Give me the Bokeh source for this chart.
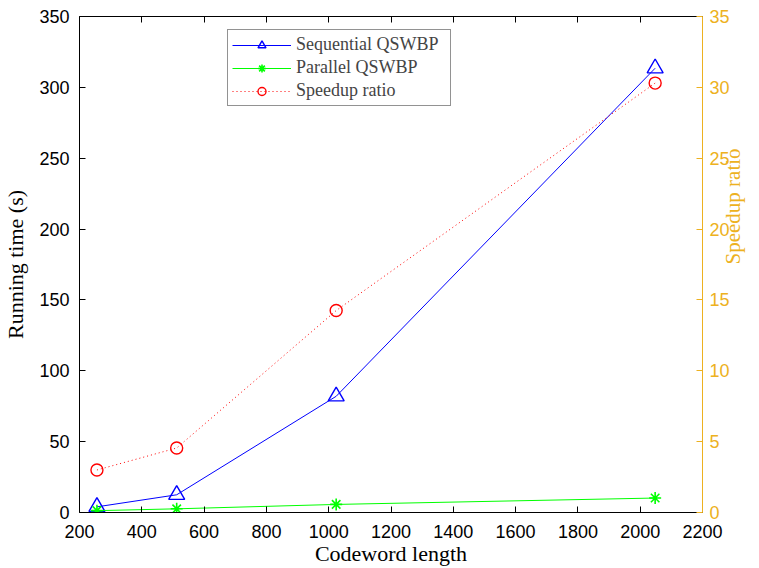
import math
from bokeh.plotting import figure
from bokeh.models import (Range1d, LinearAxis, FixedTicker, Legend, LegendItem,
                          CustomLabelingPolicy)
from bokeh.embed import file_html
from bokeh.resources import INLINE

# ---- data ----
codeword_length = [256, 512, 1024, 2048]
sequential_time = [4.0, 12.5, 82.0, 313.5]
parallel_time = [1.3, 2.6, 5.7, 10.2]
speedup_ratio = [3.0, 4.55, 14.25, 30.3]

x_ticks = [200, 400, 600, 800, 1000, 1200, 1400, 1600, 1800, 2000, 2200]
left_ticks = [0, 50, 100, 150, 200, 250, 300, 350]
right_ticks = [0, 5, 10, 15, 20, 25, 30, 35]

ORANGE = "#EDB120"
TICK_FONT = "Liberation Sans"
SERIF = "Liberation Serif"

p = figure(width=759, height=568,
           x_range=Range1d(200, 2200), y_range=Range1d(0, 350),
           output_backend="svg", toolbar_location=None,
           min_border_left=76, min_border_top=16, min_border_right=55, min_border_bottom=56)
p.outline_line_color = None
p.grid.visible = False
p.background_fill_color = "white"
p.border_fill_color = "white"

p.extra_y_ranges = {"right": Range1d(0, 35)}

def style_axis(ax, color):
    ax.axis_line_color = color
    ax.axis_line_width = 1
    ax.major_tick_line_color = color
    ax.major_tick_in = 6
    ax.major_tick_out = 0
    ax.minor_tick_in = 0
    ax.minor_tick_out = 0
    ax.major_label_text_color = color
    ax.major_label_text_font = TICK_FONT
    ax.major_label_text_font_size = "18px"
    ax.axis_label_text_font = SERIF
    ax.axis_label_text_font_size = "22px"
    ax.axis_label_text_font_style = "normal"
    ax.axis_label_text_color = color

xa = p.xaxis[0]
xa.ticker = FixedTicker(ticks=x_ticks)
style_axis(xa, "black")
xa.axis_label = "Codeword length"
xa.major_label_standoff = 12
xa.axis_label_standoff = 0

ya = p.yaxis[0]
ya.ticker = FixedTicker(ticks=left_ticks)
style_axis(ya, "black")
ya.axis_label = "Running time (s)"
ya.major_label_standoff = 10
ya.axis_label_standoff = 8

top = LinearAxis(ticker=FixedTicker(ticks=x_ticks))
style_axis(top, "black")
top.major_label_standoff = 0
top.major_label_policy = CustomLabelingPolicy(
    code="const a = Array.from(indices); for (const i of a) indices.unset(i);")
p.add_layout(top, "above")

ra = LinearAxis(y_range_name="right", ticker=FixedTicker(ticks=right_ticks))
style_axis(ra, ORANGE)
ra.axis_label = "Speedup ratio"
ra.axis_label_text_font_size = "21px"
ra.major_label_standoff = 7
ra.axis_label_standoff = 0
ra.axis_label_orientation = math.pi / 2
p.add_layout(ra, "right")

# ---- series ----
l1 = p.line(codeword_length, sequential_time, line_color="#0000FF", line_width=1)
m1 = p.scatter(codeword_length, sequential_time, marker="triangle", size=16,
               fill_color=None, line_color="#0000FF", line_width=1.4)

l2 = p.line(codeword_length, parallel_time, line_color="#00FF00", line_width=1)
m2 = p.scatter(codeword_length, parallel_time, marker="asterisk", size=12,
               line_color="#00FF00", line_width=1.6)

l3 = p.line(codeword_length, speedup_ratio, line_color="#FF0000", line_width=1,
            line_dash="1 3", y_range_name="right")
m3 = p.scatter(codeword_length, speedup_ratio, marker="circle", size=12,
               fill_color=None, line_color="#FF0000", line_width=1.4, y_range_name="right")

legend = Legend(items=[
    LegendItem(label="Sequential QSWBP", renderers=[l1, m1]),
    LegendItem(label="Parallel QSWBP", renderers=[l2, m2]),
    LegendItem(label="Speedup ratio", renderers=[l3, m3]),
], location=(148, 406))
legend.label_text_font = SERIF
legend.label_text_font_size = "18px"
legend.label_standoff = 5
legend.label_width = 150
legend.glyph_width = 59
legend.glyph_height = 20
legend.label_height = 20
legend.spacing = 2
legend.padding = 4
legend.margin = 0
legend.border_line_color = "#262626"
legend.border_line_width = 1
legend.background_fill_color = "white"
legend.background_fill_alpha = 1
p.add_layout(legend, "center")

open("out.html", "w").write(file_html(p, INLINE))
